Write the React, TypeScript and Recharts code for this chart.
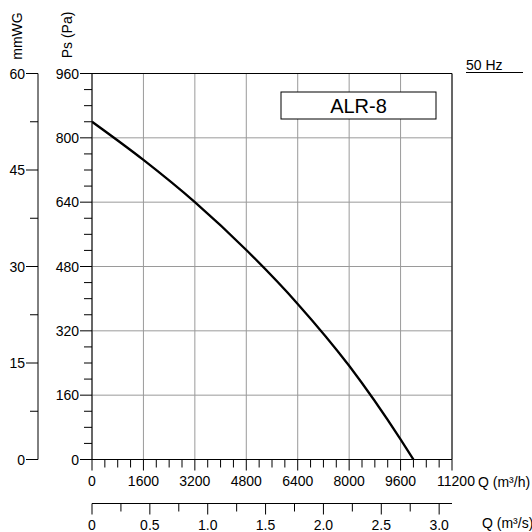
import { ComposedChart, Line, XAxis, YAxis, CartesianGrid, ReferenceLine } from 'recharts';

// fan curve ALR-8, 50 Hz (read at the grid lines)
const flowM3h = [0, 1600, 3200, 4800, 6400, 8000, 9600, 10000];
const pressurePa = [840, 745, 640, 521, 387, 233, 50, 0];

const flowTicks = [0, 400, 800, 1200, 1600, 2000, 2400, 2800, 3200, 3600, 4000, 4400, 4800, 5200, 5600, 6000, 6400, 6800, 7200, 7600, 8000, 8400, 8800, 9200, 9600, 10000, 10400, 10800, 11200];
const flowMajor = [0, 1600, 3200, 4800, 6400, 8000, 9600, 11200];
const flowSTicks = [0, 0.25, 0.5, 0.75, 1.0, 1.25, 1.5, 1.75, 2.0, 2.25, 2.5, 2.75, 3.0];
const flowSMajor = [0, 0.5, 1.0, 1.5, 2.0, 2.5, 3.0];
const psTicks = [0, 40, 80, 120, 160, 200, 240, 280, 320, 360, 400, 440, 480, 520, 560, 600, 640, 680, 720, 760, 800, 840, 880, 920, 960];
const psMajor = [0, 160, 320, 480, 640, 800, 960];
const mmTicks = [0, 7.5, 15, 22.5, 30, 37.5, 45, 52.5, 60];
const mmMajor = [0, 15, 30, 45, 60];

// secondary scales share the same plot: m³/s = m³/h / 3600, mmWG axis 0-60 over 0-960 Pa
const data = flowM3h.map((q, i) => ({ q, qs: q / 3600, ps: pressurePa[i], mm: pressurePa[i] / 16 }));

const FONT = '"Liberation Sans", Arial, sans-serif';

const makeYTick = (major: number[]) => (props: any) => {
  const { x, y, payload } = props;
  const isMajor = major.includes(payload.value);
  return (
    <g>
      <line x1={x} x2={x - (isMajor ? 12 : 8)} y1={y} y2={y} stroke="#000" strokeWidth={1} />
      {isMajor && (
        <text x={x - 13} y={y} dy={5} textAnchor="end" fontSize={14} fontFamily={FONT} fill="#000">
          {payload.value}
        </text>
      )}
    </g>
  );
};

const makeXTick = (major: number[], fmt: (v: number) => string, last?: number) => (props: any) => {
  const { x, y, payload } = props;
  const isMajor = major.includes(payload.value);
  return (
    <g>
      <line x1={x} x2={x} y1={y} y2={y + (isMajor ? 11 : 8)} stroke="#000" strokeWidth={1} />
      {isMajor && (
        <text x={x + (payload.value === last ? 4 : 0)} y={y + 26} textAnchor="middle" fontSize={14} fontFamily={FONT} fill="#000">
          {fmt(payload.value)}
        </text>
      )}
    </g>
  );
};

export default function App() {
  return (
    <div style={{ position: 'absolute', left: 0, top: 0, width: 532, height: 532, background: '#fff', fontFamily: FONT }}>
      <ComposedChart width={532} height={532} data={data} margin={{ top: 73.5, right: 80, bottom: 0, left: 0 }}>
        <CartesianGrid
          xAxisId="flow"
          yAxisId="a_ps"
          stroke="#9a9a9a"
          strokeWidth={1}
          verticalValues={flowMajor}
          horizontalValues={psMajor}
        />
        <XAxis
          xAxisId="flow"
          dataKey="q"
          type="number"
          domain={[0, 11200]}
          ticks={flowTicks}
          interval={0}
          height={44}
          axisLine={{ stroke: '#000' }}
          tickLine={false}
          tickSize={0}
          tickMargin={0}
          tick={makeXTick(flowMajor, (v) => String(v), 11200)}
          allowDataOverflow
        />
        <XAxis
          xAxisId="flowS"
          dataKey="qs"
          type="number"
          domain={[0, 11200 / 3600]}
          ticks={flowSTicks}
          interval={0}
          height={28.5}
          axisLine={{ stroke: '#000' }}
          tickLine={false}
          tickSize={0}
          tickMargin={0}
          tick={makeXTick(flowSMajor, (v) => (v === 0 ? '0' : v.toFixed(1)))}
          allowDataOverflow
        />
        <YAxis
          yAxisId="a_ps"
          type="number"
          domain={[0, 960]}
          ticks={psTicks}
          interval={0}
          width={54}
          axisLine={{ stroke: '#000' }}
          tickLine={false}
          tickSize={0}
          tickMargin={0}
          tick={makeYTick(psMajor)}
          allowDataOverflow
        />
        <YAxis
          yAxisId="b_mm"
          dataKey="mm"
          type="number"
          domain={[0, 60]}
          ticks={mmTicks}
          interval={0}
          width={38}
          axisLine={{ stroke: '#000' }}
          tickLine={false}
          tickSize={0}
          tickMargin={0}
          tick={makeYTick(mmMajor)}
          allowDataOverflow
        />
        <ReferenceLine xAxisId="flow" yAxisId="a_ps" y={960} stroke="#000" strokeWidth={1} />
        <ReferenceLine xAxisId="flow" yAxisId="a_ps" x={11200} stroke="#000" strokeWidth={1} />
        <Line
          xAxisId="flow"
          yAxisId="a_ps"
          dataKey="ps"
          type="monotone"
          stroke="#000"
          strokeWidth={2.3}
          dot={false}
          isAnimationActive={false}
        />
      </ComposedChart>
      <svg width={532} height={532} style={{ position: 'absolute', left: 0, top: 0, pointerEvents: 'none' }}>
        <text transform="translate(22,36) rotate(-90)" textAnchor="middle" fontSize={14} fontFamily={FONT} fill="#000">
          mmWG
        </text>
        <text transform="translate(72,35) rotate(-90)" textAnchor="middle" fontSize={14} fontFamily={FONT} fill="#000">
          Ps (Pa)
        </text>
        <rect x={281} y={92} width={155} height={27} fill="#fff" stroke="#000" strokeWidth={1} />
        <text x={358.5} y={112.5} textAnchor="middle" fontSize={20} fontFamily={FONT} fill="#000">
          ALR-8
        </text>
        <text x={466} y={70} fontSize={14} fontFamily={FONT} fill="#000">
          50 Hz
        </text>
        <line x1={466} x2={523} y1={72.5} y2={72.5} stroke="#000" strokeWidth={1} />
        <text x={478} y={486.5} fontSize={14} fontFamily={FONT} fill="#000">
          Q (m³/h)
        </text>
        <text x={482} y={528} fontSize={14} fontFamily={FONT} fill="#000">
          Q (m³/s)
        </text>
      </svg>
    </div>
  );
}
